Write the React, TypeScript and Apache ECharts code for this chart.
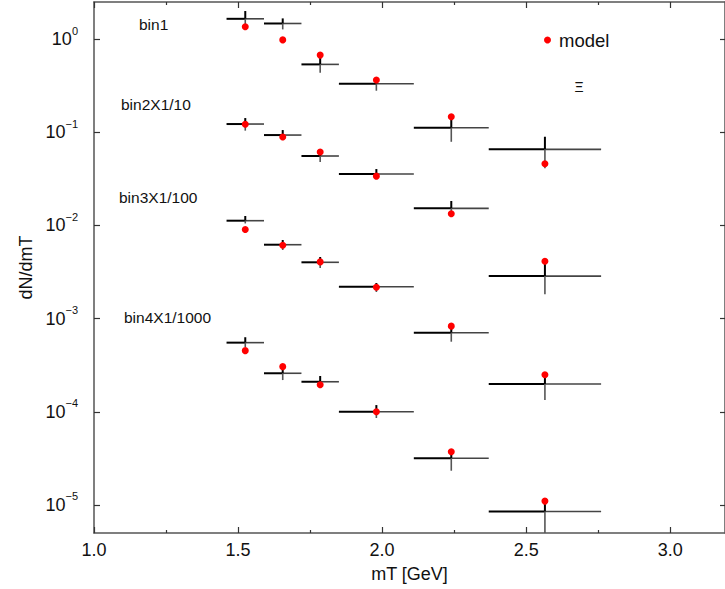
import React, { useEffect, useRef } from 'react';
import * as echarts from 'echarts';

// ---- data ----
const binCenters = [1.525, 1.655, 1.785, 1.98, 2.24, 2.565];
const binLowEdges = [1.46, 1.59, 1.72, 1.85, 2.11, 2.37];
const binHighEdges = [1.59, 1.72, 1.85, 2.11, 2.37, 2.76];

const bin1Data = [1.65, 1.47, 0.535, 0.331, 0.1117, 0.0655];
const bin1Upper = [2.0, 1.667, 0.646, 0.36, 0.1467, 0.0895];
const bin1Lower = [1.41, 1.27, 0.435, 0.279, 0.079, 0.041];
const bin1Model = [1.355, 0.98, 0.673, 0.363, 0.1467, 0.0459];

const bin2Data = [0.1225, 0.0933, 0.0556, 0.0356, 0.01525, 0.00286];
const bin2Upper = [0.142, 0.1056, 0.0613, 0.0403, 0.0183, 0.00415];
const bin2Lower = [0.104, 0.0825, 0.0479, 0.0338, 0.0136, 0.00182];
const bin2Model = [0.122, 0.0888, 0.0613, 0.0338, 0.01336, 0.00412];

const bin3Data = [0.01124, 0.00621, 0.00402, 0.0022, 0.000706, 0.000199];
const bin3Upper = [0.01262, 0.00697, 0.00458, 0.00241, 0.000833, 0.00025];
const bin3Lower = [0.0105, 0.00545, 0.00349, 0.00193, 0.000565, 0.000134];
const bin3Model = [0.00906, 0.00614, 0.00406, 0.00217, 0.00083, 0.00025];

const bin4Data = [0.000552, 0.000259, 0.00021, 0.0001, 3.17e-5, 8.5e-6];
const bin4Upper = [0.000631, 0.000305, 0.000242, 0.000118, 3.73e-5, 1.1e-5];
const bin4Lower = [0.000495, 0.000219, 0.00018, 8.57e-5, 2.33e-5, 4.5e-6];
const bin4Model = [0.000453, 0.000305, 0.000195, 0.0001, 3.73e-5, 1.1e-5];

const binLabels = ['bin1', 'bin2X1/10', 'bin3X1/100', 'bin4X1/1000'];

const xTickValues = [1.0, 1.5, 2.0, 2.5, 3.0];
const xMinorTickValues = [1.25, 1.75, 2.25, 2.75];
const yTickValues = [1e-5, 1e-4, 1e-3, 1e-2, 1e-1, 1];

const FONT = 'Liberation Sans, Arial, sans-serif';

function buildRows(data: number[], lower: number[], upper: number[]) {
  return data.map((v, i) => [binCenters[i], v, binLowEdges[i], binHighEdges[i], lower[i], upper[i]]);
}

function errSeries(name: string, rows: number[][]) {
  return {
    name,
    type: 'custom',
    xAxisIndex: 0,
    yAxisIndex: 0,
    clip: true,
    z: 2,
    encode: { x: 0, y: 1 },
    data: rows,
    renderItem: (params: any, api: any) => {
      const xc = api.value(0);
      const y = api.value(1);
      const xl = api.value(2);
      const xh = api.value(3);
      const yl = api.value(4);
      const yh = api.value(5);
      const pc = api.coord([xc, y]);
      const pl = api.coord([xl, y]);
      const ph = api.coord([xh, y]);
      const pyl = api.coord([xc, yl]);
      const pyh = api.coord([xc, yh]);
      return {
        type: 'group',
        children: [
          { type: 'line', shape: { x1: pl[0], y1: pc[1], x2: pc[0], y2: pc[1] }, style: { stroke: '#000', lineWidth: 2 } },
          { type: 'line', shape: { x1: pc[0], y1: pc[1], x2: ph[0], y2: pc[1] }, style: { stroke: '#444', lineWidth: 1.6 } },
          { type: 'line', shape: { x1: pc[0], y1: pyh[1], x2: pc[0], y2: pc[1] }, style: { stroke: '#000', lineWidth: 2 } },
          { type: 'line', shape: { x1: pc[0], y1: pc[1], x2: pc[0], y2: pyl[1] }, style: { stroke: '#555', lineWidth: 1.6 } },
        ],
      };
    },
  };
}

function modelSeries(name: string, model: number[]) {
  return {
    name,
    type: 'scatter',
    xAxisIndex: 0,
    yAxisIndex: 0,
    symbol: 'circle',
    symbolSize: 7,
    z: 5,
    itemStyle: { color: '#ff0000', opacity: 1 },
    emphasis: { disabled: true },
    data: model.map((v, i) => [binCenters[i], v]),
  };
}

const expLabel = (v: number) => {
  const e = Math.round(Math.log10(v));
  const s = e < 0 ? '\u2212' + String(-e) : String(e);
  return `{b|10}{s|${s}}`;
};

export default function App() {
  const ref = useRef<HTMLDivElement>(null);
  useEffect(() => {
    if (!ref.current) return;
    const chart = echarts.init(ref.current, null, { renderer: 'svg' });
    const axisLineStyle = { color: '#555', width: 1.5 };
    const xMin = 1.0;
    const xMax = 3.19;
    const yMin = 5e-6;
    const yMax = 2.5;
    const option: any = {
      animation: false,
      backgroundColor: '#fff',
      textStyle: { fontFamily: FONT },
      grid: { left: 94, top: 2, width: 633.6, height: 531, containLabel: false },
      xAxis: [
        {
          type: 'value', position: 'bottom', min: xMin, max: xMax,
          name: 'mT [GeV]', nameLocation: 'middle', nameGap: 32,
          nameTextStyle: { fontSize: 18, color: '#111', fontFamily: FONT },
          axisLine: { show: true, lineStyle: axisLineStyle },
          axisTick: { show: true, inside: true, length: 6, customValues: xTickValues, lineStyle: { color: '#333', width: 1.2 } },
          axisLabel: { show: true, customValues: xTickValues, margin: 8, fontSize: 18, color: '#111', fontFamily: FONT, formatter: (v: number) => v.toFixed(1) },
          splitLine: { show: false },
        },
        {
          type: 'value', position: 'bottom', min: xMin, max: xMax,
          axisLine: { show: false },
          axisTick: { show: true, inside: true, length: 3, customValues: xMinorTickValues, lineStyle: { color: '#333', width: 1.2 } },
          axisLabel: { show: false },
          splitLine: { show: false },
        },
        {
          type: 'value', position: 'top', min: xMin, max: xMax,
          axisLine: { show: true, lineStyle: axisLineStyle },
          axisTick: { show: true, inside: true, length: 6, customValues: xTickValues, lineStyle: { color: '#333', width: 1.2 } },
          axisLabel: { show: false },
          splitLine: { show: false },
        },
        {
          type: 'value', position: 'top', min: xMin, max: xMax,
          axisLine: { show: false },
          axisTick: { show: true, inside: true, length: 3, customValues: xMinorTickValues, lineStyle: { color: '#333', width: 1.2 } },
          axisLabel: { show: false },
          splitLine: { show: false },
        },
      ],
      yAxis: [
        {
          type: 'log', logBase: 10, position: 'left', min: yMin, max: yMax,
          name: 'dN/dmT', nameLocation: 'middle', nameGap: 58, nameRotate: 90,
          nameTextStyle: { fontSize: 18, color: '#111', fontFamily: FONT },
          axisLine: { show: true, lineStyle: axisLineStyle },
          axisTick: { show: true, inside: true, length: 6, customValues: yTickValues, lineStyle: { color: '#333', width: 1.2 } },
          axisLabel: {
            show: true, customValues: yTickValues, margin: 16, formatter: expLabel,
            rich: {
              b: { fontSize: 18, color: '#111', fontFamily: FONT, lineHeight: 28 },
              s: { fontSize: 11, color: '#111', fontFamily: FONT, lineHeight: 12, verticalAlign: 'top' },
            },
          },
          splitLine: { show: false },
        },
        {
          type: 'log', logBase: 10, position: 'right', min: yMin, max: yMax,
          axisLine: { show: true, lineStyle: axisLineStyle },
          axisTick: { show: true, inside: true, length: 5, customValues: yTickValues, lineStyle: { color: '#333', width: 1.2 } },
          axisLabel: { show: false },
          splitLine: { show: false },
        },
      ],
      graphic: [
        { type: 'text', x: 139, y: 24.5, style: { text: binLabels[0], fontSize: 15.5, fontFamily: FONT, fill: '#111', verticalAlign: 'middle', align: 'left' } },
        { type: 'text', x: 121, y: 104, style: { text: binLabels[1], fontSize: 15.5, fontFamily: FONT, fill: '#111', verticalAlign: 'middle', align: 'left' } },
        { type: 'text', x: 119, y: 197, style: { text: binLabels[2], fontSize: 15.5, fontFamily: FONT, fill: '#111', verticalAlign: 'middle', align: 'left' } },
        { type: 'text', x: 124, y: 317, style: { text: binLabels[3], fontSize: 15.5, fontFamily: FONT, fill: '#111', verticalAlign: 'middle', align: 'left' } },
        { type: 'circle', shape: { cx: 547.5, cy: 40, r: 3.5 }, style: { fill: '#ff0000' } },
        { type: 'text', x: 559, y: 40, style: { text: 'model', fontSize: 18.5, fontFamily: FONT, fill: '#111', verticalAlign: 'middle', align: 'left' } },
        { type: 'text', x: 579, y: 87, style: { text: '\u039E', fontSize: 14, fontFamily: FONT, fill: '#111', verticalAlign: 'middle', align: 'center' } },
      ],
      series: [
        errSeries('bin1', buildRows(bin1Data, bin1Lower, bin1Upper)),
        errSeries('bin2X1/10', buildRows(bin2Data, bin2Lower, bin2Upper)),
        errSeries('bin3X1/100', buildRows(bin3Data, bin3Lower, bin3Upper)),
        errSeries('bin4X1/1000', buildRows(bin4Data, bin4Lower, bin4Upper)),
        modelSeries('model bin1', bin1Model),
        modelSeries('model bin2', bin2Model),
        modelSeries('model bin3', bin3Model),
        modelSeries('model bin4', bin4Model),
      ],
    };
    chart.setOption(option);
    return () => chart.dispose();
  }, []);
  return <div ref={ref} style={{ position: 'fixed', left: 0, top: 0, width: 725, height: 589, background: '#fff' }} />;
}
